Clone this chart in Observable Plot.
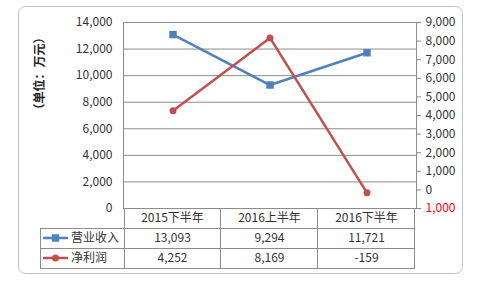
<!DOCTYPE html>
<html><head><meta charset="utf-8">
<script src="https://cdn.jsdelivr.net/npm/d3@7"></script>
<script src="https://cdn.jsdelivr.net/npm/@observablehq/plot@0.6"></script>
<style>body{margin:0;background:#fff} svg{display:block}</style>
</head><body><div id="chart"></div>
<script>
const categories = ["2015下半年", "2016上半年", "2016下半年"];
const seriesNames = ["营业收入", "净利润"];
const revenue = [13093, 9294, 11721];
const profit = [4252, 8169, -159];
const leftTicks = [0, 2000, 4000, 6000, 8000, 10000, 12000, 14000];
const rightTicks = [-1000, 0, 1000, 2000, 3000, 4000, 5000, 6000, 7000, 8000, 9000];
const yTitle = "（单位：万元）";
const colors = ["#4F81BD", "#C0504D"];

const L = [0, 14000], R = [-1000, 9000];
const toLeft = v => L[0] + (v - R[0]) * (L[1] - L[0]) / (R[1] - R[0]);
const fromLeft = v => R[0] + (v - L[0]) * (R[1] - R[0]) / (L[1] - L[0]);
const fmt = v => d3.format(",")(v).replace("−", "-");
const fmtR = v => d3.format(",")(Math.abs(Math.round(v)));

const revRows = categories.map((c, i) => ({cat: c, v: revenue[i]}));
const profRows = categories.map((c, i) => ({cat: c, v: toLeft(profit[i])}));

const font = "'Noto Sans CJK SC', 'Noto Sans', sans-serif";
const grid = "#8c8c8c";

const chart = Plot.plot({
  width: 480, height: 286,
  marginLeft: 123, marginRight: 64, marginTop: 22, marginBottom: 78,
  x: {type: "band", domain: categories, padding: 0, axis: null},
  y: {domain: L, axis: null},
  style: {fontFamily: font, fontSize: "12px", color: "#333", background: "#fff"},
  marks: [
    Plot.gridY(leftTicks, {stroke: grid, strokeOpacity: 1}),
    Plot.frame({stroke: grid}),
    Plot.axisY(leftTicks, {anchor: "left", tickSize: 0, tickPadding: 11, tickFormat: fmt, label: null, fill: "#333"}),
    Plot.axisY(rightTicks.filter(v => v >= 0).map(toLeft), {anchor: "right", tickSize: 4, tickPadding: 5, tickFormat: d => fmtR(fromLeft(d)), label: null, stroke: grid, fill: "#333"}),
    Plot.axisY(rightTicks.filter(v => v < 0).map(toLeft), {anchor: "right", tickSize: 4, tickPadding: 5, tickFormat: d => fmtR(fromLeft(d)), label: null, stroke: grid, fill: "#ff0000"}),
    Plot.text([yTitle], {text: d => d, frameAnchor: "left", rotate: -90, dx: -83, fontWeight: "bold", fontSize: 12, fill: "#222"}),
    Plot.line(revRows, {x: "cat", y: "v", stroke: colors[0], strokeWidth: 2.5}),
    Plot.dot(revRows, {x: "cat", y: "v", symbol: "square", fill: colors[0], r: 4.2}),
    Plot.line(profRows, {x: "cat", y: "v", stroke: colors[1], strokeWidth: 2.5}),
    Plot.dot(profRows, {x: "cat", y: "v", symbol: "circle", fill: colors[1], r: 3.5})
  ]
});

document.getElementById("chart").appendChild(chart);

// data table below the plot, positioned with the plot's own scales
const svg = d3.select(chart);
const sx = chart.scale("x"), sy = chart.scale("y");
const bw = sx.bandwidth;
const x0 = sx.apply(categories[0]);
const xEnd = sx.apply(categories[categories.length - 1]) + bw;
const yTop = sy.apply(0);
const rowH = 20;
const labelLeft = 40;
const g = svg.append("g").attr("font-family", font).attr("font-size", 12).attr("fill", "#333").attr("text-anchor", "start");
const line = (xa, ya, xb, yb) => g.append("line").attr("x1", xa).attr("y1", ya).attr("x2", xb).attr("y2", yb).attr("stroke", grid);
for (let r = 1; r <= 3; r++) line(labelLeft, yTop + r * rowH + 0.5, xEnd, yTop + r * rowH + 0.5);
line(labelLeft + 0.5, yTop + rowH, labelLeft + 0.5, yTop + 3 * rowH + 0.5);
line(x0 + 0.5, yTop, x0 + 0.5, yTop + 3 * rowH + 0.5);
categories.forEach(c => { const xb = Math.round(sx.apply(c) + bw) - 0.5; line(xb, yTop, xb, yTop + 3 * rowH + 0.5); });
categories.forEach((c, i) => {
  const cx = sx.apply(c) + bw / 2;
  g.append("text").attr("x", cx).attr("y", yTop + rowH / 2).attr("dy", "0.35em").attr("text-anchor", "middle").text(c);
  g.append("text").attr("x", cx).attr("y", yTop + rowH * 1.5).attr("dy", "0.35em").attr("text-anchor", "middle").text(fmt(revenue[i]));
  g.append("text").attr("x", cx).attr("y", yTop + rowH * 2.5).attr("dy", "0.35em").attr("text-anchor", "middle").text(fmt(profit[i]));
});
seriesNames.forEach((name, i) => {
  const cy = yTop + rowH * (1.5 + i);
  g.append("line").attr("x1", labelLeft + 3).attr("x2", labelLeft + 28).attr("y1", cy).attr("y2", cy).attr("stroke", colors[i]).attr("stroke-width", 2.5);
  if (i === 0) g.append("rect").attr("x", labelLeft + 15.5 - 3.7).attr("y", cy - 3.7).attr("width", 7.4).attr("height", 7.4).attr("fill", colors[i]);
  else g.append("circle").attr("cx", labelLeft + 15.5).attr("cy", cy).attr("r", 3.5).attr("fill", colors[i]);
  g.append("text").attr("x", labelLeft + 31).attr("y", cy).attr("dy", "0.35em").attr("text-anchor", "start").text(name);
});
// outer chart border
svg.append("rect").attr("x", 18.5).attr("y", 6.5).attr("width", 444).attr("height", 267).attr("rx", 7)
  .attr("fill", "none").attr("stroke", "#c4c4c4");
</script></body></html>
